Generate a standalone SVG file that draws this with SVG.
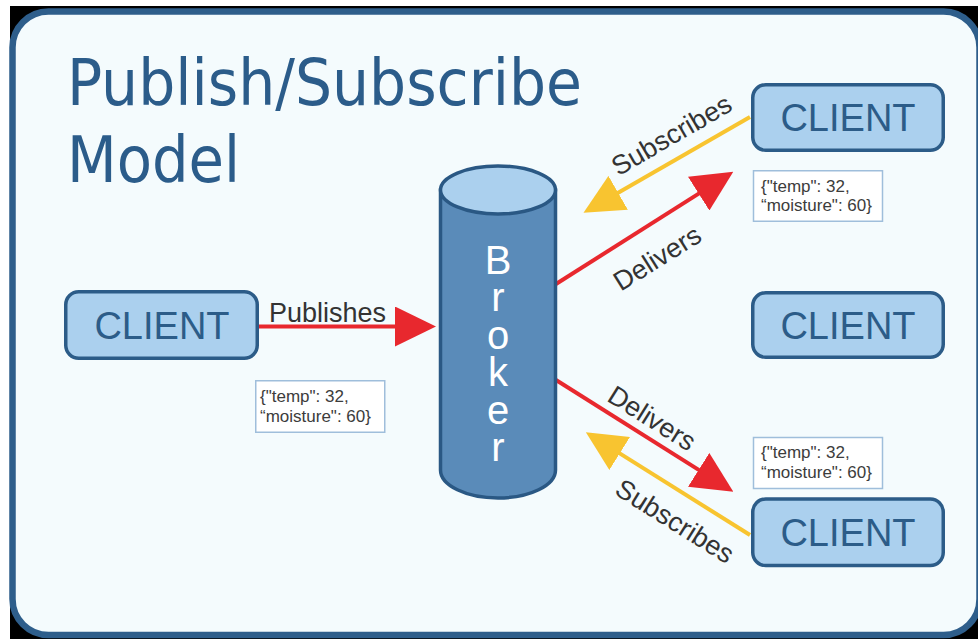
<svg xmlns="http://www.w3.org/2000/svg" width="978" height="639" viewBox="0 0 978 639">
  <style>
    .title { font-family: "DejaVu Sans Condensed", "DejaVu Sans", Verdana, sans-serif; font-size: 64px; fill: #2b5c8a; }
    .client-box { fill: #abd0ee; stroke: #2c5c88; stroke-width: 3.5; }
    .client-label { font-family: "Liberation Sans", Arial, sans-serif; font-size: 38px; fill: #2c5c88; text-anchor: middle; }
    .payload-box { fill: #ffffff; stroke: #9fbedb; stroke-width: 1.5; }
    .payload-text { font-family: "Liberation Sans", Arial, sans-serif; font-size: 17px; fill: #3c3c3c; }
    .broker-label { font-family: "Liberation Sans", Arial, sans-serif; font-size: 40px; fill: #ffffff; writing-mode: vertical-rl; text-orientation: upright; letter-spacing: -6.6px; }
    .edge-label { font-family: "Liberation Sans", Arial, sans-serif; font-size: 27px; fill: #333333; }
    .deliver { stroke: #e8282e; stroke-width: 4; fill: none; }
    .subscribe { stroke: #f8c430; stroke-width: 4; fill: none; }
  </style>
  <defs>
    <marker id="head-red" markerUnits="userSpaceOnUse" markerWidth="41" markerHeight="40" viewBox="0 0 41 40" refX="1" refY="20" orient="auto">
      <path d="M0,0 L41,20 L0,40 Z" fill="#e8282e"/>
    </marker>
    <marker id="head-yellow" markerUnits="userSpaceOnUse" markerWidth="40" markerHeight="39" viewBox="0 0 40 39" refX="1" refY="19.5" orient="auto">
      <path d="M0,0 L40,19.5 L0,39 Z" fill="#f8c430"/>
    </marker>
  </defs>

  <!-- page backdrop and framed panel -->
  <rect x="0" y="0" width="978" height="639" fill="#ffffff"/>
  <rect x="10" y="6" width="968" height="633" fill="#000000"/>
  <g id="frame">
    <rect x="12.5" y="11.5" width="967" height="623.5" rx="36" fill="#f4fbfd" stroke="#2e5e8b" stroke-width="6.5"/>
  </g>

  <g id="title">
    <text class="title" x="67" y="105" textLength="515" lengthAdjust="spacingAndGlyphs">Publish/Subscribe</text>
    <text class="title" x="67" y="182" textLength="173" lengthAdjust="spacingAndGlyphs">Model</text>
  </g>

  <!-- connectors and their labels -->
  <g id="connectors">
    <line class="deliver" x1="259" y1="326.5" x2="396" y2="326.5" marker-end="url(#head-red)"/>
    <text class="edge-label" x="269" y="321.5">Publishes</text>

    <line class="subscribe" x1="750" y1="117" x2="617.3" y2="193.3" marker-end="url(#head-yellow)"/>
    <text class="edge-label" text-anchor="middle" transform="translate(676,143) rotate(-30)">Subscribes</text>

    <line class="deliver" x1="556" y1="284" x2="699.5" y2="193.1" marker-end="url(#head-red)"/>
    <text class="edge-label" text-anchor="middle" transform="translate(662,266) rotate(-32)">Delivers</text>

    <line class="deliver" x1="556" y1="380" x2="699.5" y2="470.4" marker-end="url(#head-red)"/>
    <text class="edge-label" text-anchor="middle" transform="translate(647,426) rotate(32)">Delivers</text>

    <line class="subscribe" x1="750" y1="535" x2="618.9" y2="452.9" marker-end="url(#head-yellow)"/>
    <text class="edge-label" text-anchor="middle" transform="translate(670,529) rotate(32)">Subscribes</text>
  </g>

  <g id="broker">
    <path d="M440.5,190 V470 A57.5,28 0 0 0 555.5,470 V190 Z" fill="#5a8bb9" stroke="#2a5884" stroke-width="3.5"/>
    <ellipse cx="498" cy="190" rx="57.5" ry="24" fill="#abd0ee" stroke="#2a5884" stroke-width="3.5"/>
    <text class="broker-label" x="498" y="238">Broker</text>
  </g>

  <g id="client-publisher">
    <rect class="client-box" x="65.75" y="291.75" width="191.5" height="66.5" rx="13"/>
    <text class="client-label" x="162" y="338.6">CLIENT</text>
  </g>
  <g id="client-top">
    <rect class="client-box" x="752.75" y="84.75" width="190.5" height="65.5" rx="13"/>
    <text class="client-label" x="848" y="131.3">CLIENT</text>
  </g>
  <g id="client-middle">
    <rect class="client-box" x="752.75" y="292.75" width="190.5" height="64.5" rx="13"/>
    <text class="client-label" x="848" y="338.6">CLIENT</text>
  </g>
  <g id="client-bottom">
    <rect class="client-box" x="752.75" y="499" width="190.5" height="66.5" rx="13"/>
    <text class="client-label" x="848" y="545.8">CLIENT</text>
  </g>

  <g id="payload-published">
    <rect class="payload-box" x="255.75" y="380.75" width="129" height="51.5"/>
    <text class="payload-text" x="260" y="401.7">{"temp": 32,</text>
    <text class="payload-text" x="260" y="421.7">“moisture": 60}</text>
  </g>
  <g id="payload-top">
    <rect class="payload-box" x="753.5" y="170.75" width="129" height="50.5"/>
    <text class="payload-text" x="761" y="191.7">{"temp": 32,</text>
    <text class="payload-text" x="761" y="211">“moisture": 60}</text>
  </g>
  <g id="payload-bottom">
    <rect class="payload-box" x="753.5" y="437.5" width="129" height="51"/>
    <text class="payload-text" x="761" y="458.3">{"temp": 32,</text>
    <text class="payload-text" x="761" y="478.3">“moisture": 60}</text>
  </g>
</svg>
